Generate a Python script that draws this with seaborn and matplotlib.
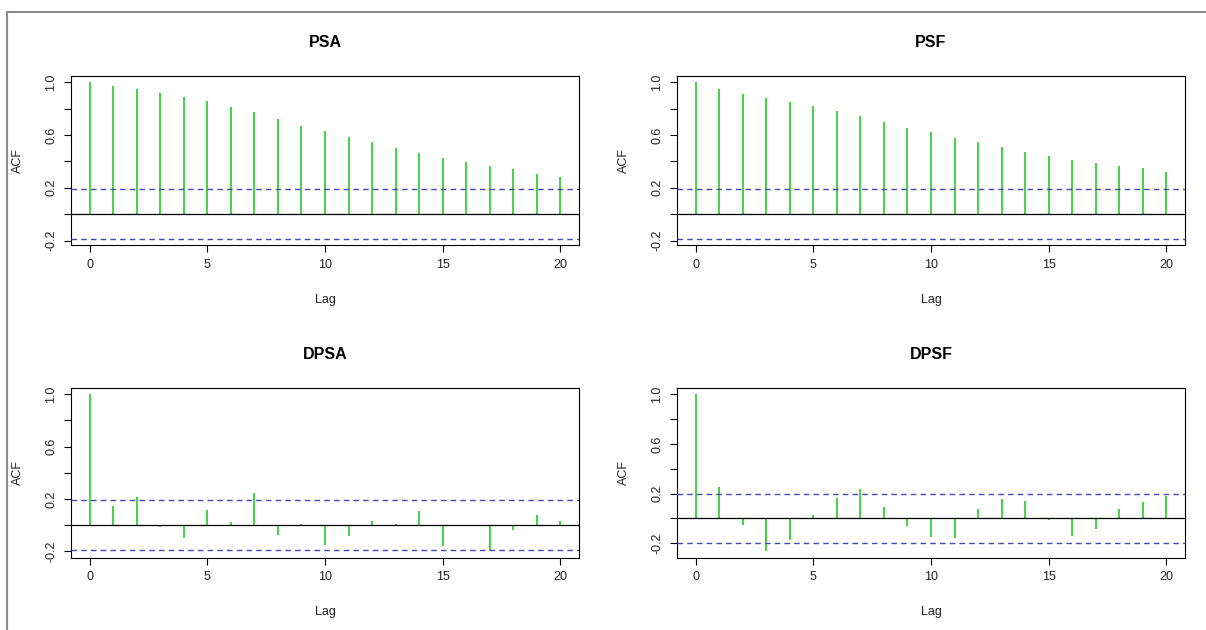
import matplotlib

matplotlib.use("Agg")

import matplotlib.pyplot as plt
import pandas as pd
import seaborn as sns
from matplotlib.patches import Rectangle

# --- data (sample ACF, lags 0..20) ---
lags = [0, 1, 2, 3, 4, 5, 6, 7, 8, 9, 10, 11, 12, 13, 14, 15, 16, 17, 18, 19, 20]

psa_acf = [1.000, 0.975, 0.949, 0.922, 0.886, 0.856, 0.815, 0.777, 0.724, 0.671, 0.628,
           0.587, 0.544, 0.501, 0.463, 0.428, 0.397, 0.367, 0.339, 0.306, 0.281]
psf_acf = [1.000, 0.949, 0.909, 0.878, 0.851, 0.820, 0.782, 0.747, 0.701, 0.656, 0.620,
           0.580, 0.547, 0.509, 0.473, 0.443, 0.413, 0.390, 0.367, 0.347, 0.322]
dpsa_acf = [1.000, 0.148, 0.214, -0.018, -0.102, 0.115, 0.026, 0.242, -0.079, 0.006, -0.153,
            -0.087, 0.033, 0.006, 0.110, -0.161, -0.004, -0.200, -0.038, 0.079, 0.033]
dpsf_acf = [1.000, 0.256, -0.051, -0.264, -0.171, 0.029, 0.163, 0.240, 0.093, -0.059, -0.147,
            -0.155, 0.077, 0.157, 0.139, -0.011, -0.139, -0.085, 0.075, 0.131, 0.179]

titles = ["PSA", "PSF", "DPSA", "DPSF"]
conf_bounds = [0.19, 0.19, 0.193, 0.195]

x_ticks = [0, 5, 10, 15, 20]
y_ticks = [-0.2, 0.0, 0.2, 0.4, 0.6, 0.8, 1.0]
y_tick_labels = ["-0.2", "", "0.2", "", "0.6", "", "1.0"]

SPIKE_COLOR = "#45d645"
CI_COLOR = "#4646b8"
TEXT_COLOR = "#222222"

sns.set_theme(style="white")
plt.rcParams["font.family"] = ["Liberation Sans", "DejaVu Sans"]

W, H = 1206, 630
fig = plt.figure(figsize=(W / 100, H / 100), dpi=100)

# panel boxes in pixels: (left, top)
col_left = [71, 677]
row_top = [76, 388]
box_w, box_h = 508, 169.5

series = [psa_acf, psf_acf, dpsa_acf, dpsf_acf]

for i, (title, values, ci) in enumerate(zip(titles, series, conf_bounds)):
    left = col_left[i % 2]
    top = row_top[i // 2]
    ax = fig.add_axes([left / W, 1 - (top + box_h) / H, box_w / W, box_h / H])

    df = pd.DataFrame({"lag": lags, "acf": values})
    sns.barplot(
        data=df, x="lag", y="acf", native_scale=True, width=0.085,
        color=SPIKE_COLOR, saturation=1, linewidth=0, errorbar=None, ax=ax,
    )
    for bar in ax.patches:
        bar.set_antialiased(False)

    ax.axhline(0, color="black", lw=0.9, zorder=3)
    for level in (ci, -ci):
        ax.axhline(level, color=CI_COLOR, lw=1.0, ls=(0, (4, 3)), zorder=3)

    lo = min(-ci, min(values))
    hi = max(ci, max(values))
    pad = 0.04 * (hi - lo)
    ax.set_ylim(lo - pad, hi + pad)
    ax.set_xlim(-0.8, 20.8)

    ax.set_xticks(x_ticks)
    ax.set_xticklabels([str(t) for t in x_ticks])
    ax.set_yticks(y_ticks)
    ax.set_yticklabels(y_tick_labels)
    ax.tick_params(axis="both", direction="out", length=5, width=0.8,
                   color="black", labelsize=9, labelcolor=TEXT_COLOR)
    ax.tick_params(axis="x", pad=5, bottom=True)
    ax.tick_params(axis="y", pad=5, left=True)
    plt.setp(ax.get_yticklabels(), rotation=90, va="center", ha="right")

    for spine in ax.spines.values():
        spine.set_visible(True)
        spine.set_color("black")
        spine.set_linewidth(0.8)

    ax.set_title(title, fontsize=11.5, fontweight="bold", pad=21, color="black")
    ax.set_xlabel("Lag", fontsize=9, color=TEXT_COLOR)
    ax.set_ylabel("ACF", fontsize=9, color=TEXT_COLOR)
    # "Lag" sits ~55 px below the box, "ACF" ~53 px left of it
    ax.xaxis.set_label_coords(0.5, -55 / box_h)
    ax.xaxis.label.set_va("center")
    ax.yaxis.set_label_coords(-53 / box_w, 0.5)
    ax.yaxis.label.set_va("center")

# grey frame around the plotting device (top/left edges visible)
fig.add_artist(Rectangle((7 / W, -0.5), 2, 0.5 + 1 - 11.7 / H, transform=fig.transFigure,
                         fill=False, edgecolor="#8c8c8c", lw=1.5))

fig.savefig("out.png", dpi=100)
